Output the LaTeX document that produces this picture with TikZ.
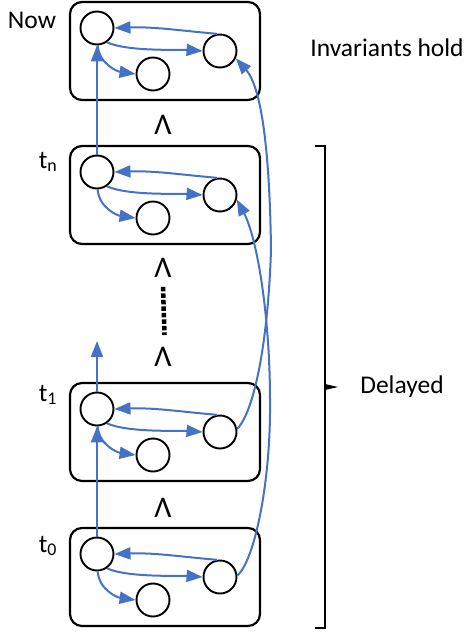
\documentclass[tikz,border=0pt]{standalone}
\usepackage{fontspec}
\setmainfont{Carlito}
\usetikzlibrary{arrows.meta}
\definecolor{lnblue}{HTML}{4472C4}
\begin{document}
\begin{tikzpicture}[x=1pt,y=1pt,
  box/.style={draw, line width=2.2pt, rounded corners=12pt, minimum width=190pt, minimum height=98pt, inner sep=0pt},
  st/.style={circle, draw, line width=1.9pt, minimum size=33pt, inner sep=0pt, fill=white},
  conn/.style={draw=lnblue, line width=2pt, -{Triangle[length=16pt,width=12pt]}},
  lbl/.style={font=\fontsize{25.5}{28}\selectfont, inner sep=0pt},
  andsym/.style={font=\fontsize{30}{32}\selectfont, inner sep=0pt},
  brk/.style={line width=2.2pt}]
\useasboundingbox (0,0) rectangle (469,-634);
\foreach \n/\T in {now/2, tn/146, t1/383, t0/528} {
  \node[box] (\n box) at (165,-\T-49) {};
  \node[st] (\n A) at (97,-\T-26) {};
  \node[st] (\n B) at (153,-\T-72) {};
  \node[st] (\n C) at (220,-\T-49) {};
  \draw[conn] (\n C.100) to[out=175,in=2] (\n A.east);
  \draw[conn] (\n A.-55) to[out=-25,in=176,looseness=0.6] (\n C.west);
  \draw[conn] (\n A.-88) to[out=-85,in=172] (\n B.west);
}
% vertical arrows
\coordinate (free) at (97,-341);
\draw[conn] (t0A) -- (t1A);
\draw[conn] (t1A) -- (free);
\draw[conn] (tnA) -- (nowA);
% delayed curves
\draw[conn] (t1C.10) .. controls (255,-410) and (268,-340) .. (271,-250)
   .. controls (270,-170) and (264,-90) .. (nowC.-25);
\draw[conn] (t0C.5) .. controls (255,-560) and (271,-480) .. (270,-400)
   .. controls (270,-320) and (258,-240) .. (tnC.-15);
% and symbols
\node[andsym] (and1) at (163,-125) {Λ};
\node[andsym] (and2) at (163,-268) {Λ};
\node[andsym] (and3) at (163,-357) {Λ};
\node[andsym] (and4) at (163,-508) {Λ};
\draw[line width=4.5pt, dash pattern=on 4.5pt off 2pt] (and2.south) ++(0,-9) coordinate (dtop) -- (164.5,-335) coordinate (dbot);
% labels
\node[lbl] (lnow) at (32,-20) {Now};
\node[lbl] (ltn) at (48,-162) {t\textsubscript{n}};
\node[lbl] (lt1) at (48,-395) {t\textsubscript{1}};
\node[lbl] (lt0) at (48,-546) {t\textsubscript{0}};
\node[lbl] (linv) at (387,-48) {Invariants hold};
\node[lbl] (ldel) at (402,-387) {Delayed};
% bracket
\coordinate (b1) at (315,-146);
\coordinate (b2) at (325,-146);
\coordinate (b3) at (325,-628);
\coordinate (b4) at (315,-628);
\draw[brk] (b1) -- (b2) -- (b3) -- (b4);
\fill (325,-384) -- (338,-387) -- (325,-390) -- cycle;
\end{tikzpicture}
\end{document}
